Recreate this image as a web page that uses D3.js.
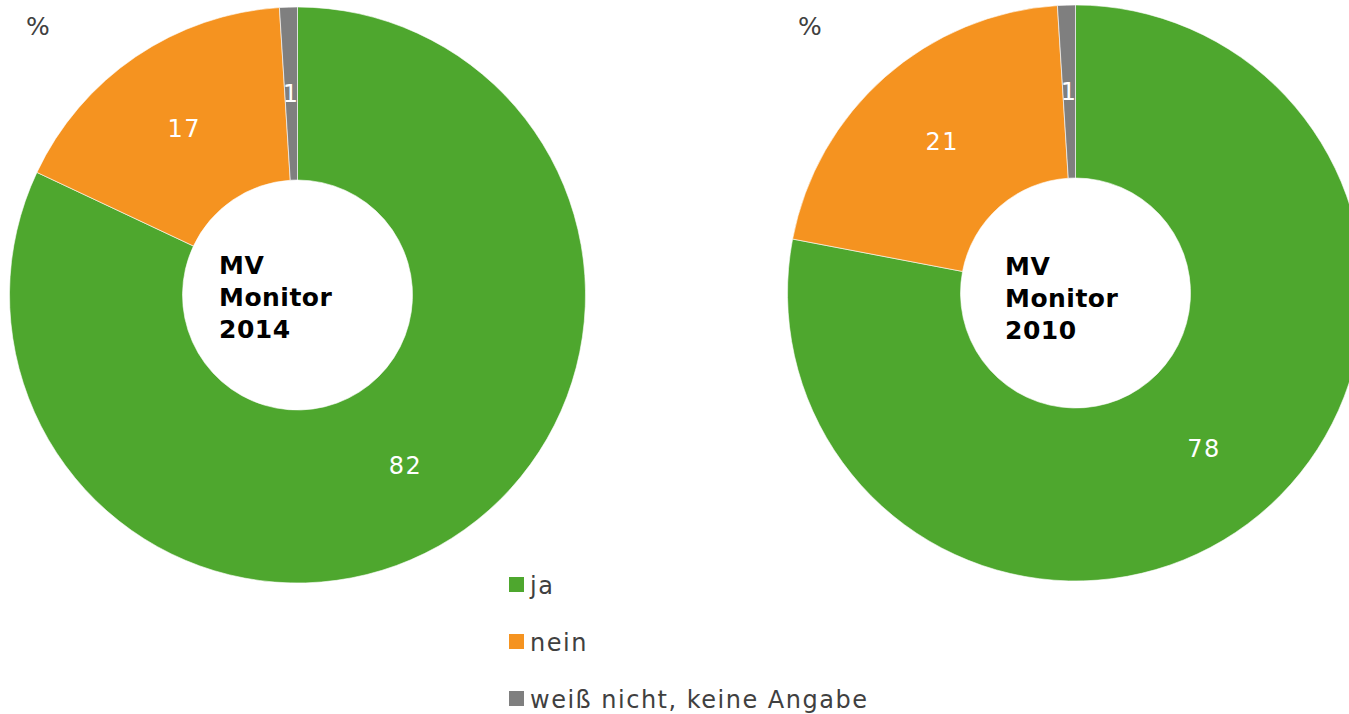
<!DOCTYPE html>
<html><head><meta charset="utf-8">
<script src="https://cdn.jsdelivr.net/npm/d3@7"></script>
<style>body{margin:0;background:#fff}svg{display:block}</style>
</head><body>
<svg id="chart" width="1349" height="714"></svg>
<script>
const categories = ["ja", "nein", "weiß nicht, keine Angabe"];
const colors = ["#4EA72E", "#F59320", "#7F7F7F"];
const values2014 = [82, 17, 1];
const values2010 = [78, 21, 1];
const titles = [["MV", "Monitor", "2014"], ["MV", "Monitor", "2010"]];
const unitLabel = "%";

const FONT = "Verdana, 'DejaVu Sans', sans-serif";
const svg = d3.select("#chart");
const pie = d3.pie().sort(null).value(d => d);
const rOuter = 288, rInner = 115;
const arc = d3.arc().innerRadius(rInner).outerRadius(rOuter);
const color = d3.scaleOrdinal().domain(categories).range(colors);

const charts = [
  {values: values2014, cx: 297.5, cy: 295, title: titles[0], tx: -78.5, ty: -21, pctX: 26, pctY: 35},
  {values: values2010, cx: 1075.5, cy: 293, title: titles[1], tx: -70.5, ty: -18, pctX: 798, pctY: 35}
];

charts.forEach(c => {
  const g = svg.append("g").attr("transform", `translate(${c.cx},${c.cy})`);
  const arcs = pie(c.values);
  g.selectAll("path").data(arcs).join("path")
    .attr("d", arc)
    .attr("fill", (d, i) => color(categories[i]))
    .attr("stroke", "#fff").attr("stroke-width", 0.6);
  g.selectAll("text.lbl").data(arcs).join("text")
    .attr("class", "lbl")
    .attr("transform", d => `translate(${arc.centroid(d)})`)
    .attr("text-anchor", "middle").attr("dy", "0.36em")
    .attr("fill", "#fff").attr("font-family", FONT).attr("font-size", 24)
    .attr("letter-spacing", 1.5)
    .text(d => d.data);
  const t = g.append("text").attr("font-family", FONT).attr("font-size", 25)
    .attr("font-weight", "bold").attr("fill", "#000").attr("letter-spacing", 0.5);
  c.title.forEach((line, i) => {
    t.append("tspan").attr("x", c.tx).attr("y", c.ty + i * 32).text(line);
  });
  svg.append("text").attr("x", c.pctX).attr("y", c.pctY)
    .attr("font-family", FONT).attr("font-size", 25).attr("fill", "#404040")
    .text(unitLabel);
});

const legend = svg.append("g");
categories.forEach((cat, i) => {
  const y = 585 + i * 57;
  legend.append("rect").attr("x", 509).attr("y", y - 8).attr("width", 15).attr("height", 15)
    .attr("fill", color(cat));
  legend.append("text").attr("x", 530).attr("y", y + 9)
    .attr("font-family", FONT).attr("font-size", 24).attr("fill", "#404040")
    .attr("letter-spacing", 1.5)
    .text(cat);
});
</script>
</body></html>
